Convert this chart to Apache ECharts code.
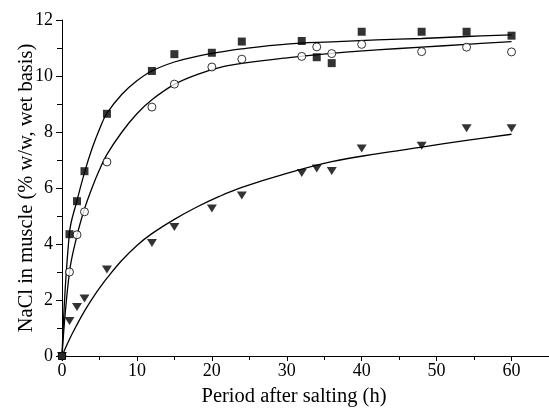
<!DOCTYPE html>
<html>
<head>
<meta charset="utf-8">
<title>NaCl uptake</title>
<script src="https://cdn.jsdelivr.net/npm/echarts@6/dist/echarts.min.js"></script>
<style>
    html, body {margin: 0; padding: 0; background: #fff;}
    #charts {width: 549px; height: 408px;}
</style>
</head>
<body>
<div id="charts"></div>
<script>
// sampling times (h) and measured NaCl (% w/w)
var hours = [0, 1, 2, 3, 6, 12, 15, 20, 24, 32, 34, 36, 40, 48, 54, 60];
var squareVals = [0, 4.35, 5.53, 6.6, 8.65, 10.18, 10.78, 10.83, 11.23, 11.25, 10.67, 10.46, 11.58, 11.58, 11.58, 11.44];
var circleVals = [0, 3.0, 4.33, 5.15, 6.93, 8.89, 9.71, 10.32, 10.6, 10.7, 11.04, 10.8, 11.13, 10.87, 11.03, 10.86];
var triangleVals = [0, 1.25, 1.75, 2.05, 3.09, 4.04, 4.61, 5.27, 5.73, 6.54, 6.7, 6.61, 7.41, 7.51, 8.13, 8.13];

// fitted curves
var curveHours = [0, 1, 2, 3, 4, 5, 6, 8, 10, 12, 15, 18, 21, 24, 30, 36, 42, 48, 54, 60];
var squareCurve = [0, 4.4, 5.55, 6.55, 7.4, 8.1, 8.67, 9.35, 9.83, 10.18, 10.5, 10.7, 10.85, 10.97, 11.14, 11.22, 11.29, 11.34, 11.41, 11.47];
var circleCurve = [0, 3.0, 4.3, 5.25, 6.0, 6.65, 7.2, 8.0, 8.65, 9.15, 9.7, 10.05, 10.3, 10.45, 10.65, 10.81, 10.93, 11.03, 11.13, 11.23];
var triangleCurve = [0, 0.6, 1.12, 1.6, 2.03, 2.42, 2.78, 3.42, 3.95, 4.37, 4.88, 5.32, 5.7, 6.02, 6.52, 6.94, 7.22, 7.46, 7.7, 7.92];

var xTicks = [0, 10, 20, 30, 40, 50, 60];
var yTicks = [0, 2, 4, 6, 8, 10, 12];

function pairs(xs, ys) {
    var res = [];
    for (var i = 0; i < xs.length; i++) {
        res.push([xs[i], ys[i]]);
    }
    return res;
}

var font = 'Liberation Serif';

function curve(ys) {
    return {
        type: 'line',
        data: pairs(curveHours, ys),
        smooth: 0.4,
        showSymbol: false,
        silent: true,
        lineStyle: {color: '#000', width: 1.3},
        z: 2
    };
}

var myChart = echarts.init(document.getElementById('charts'));
myChart.setOption({
    animation: false,
    backgroundColor: '#fff',
    grid: {left: 62, right: 0, top: 20, bottom: 52, containLabel: false, outerBoundsMode: 'none'},
    xAxis: {
        type: 'value',
        min: 0,
        max: 65,
        interval: 10,
        name: 'Period after salting (h)',
        nameLocation: 'middle',
        nameGap: 30,
        nameMoveOverlap: false,
        nameTextStyle: {fontFamily: font, fontSize: 20.5, color: '#000', padding: [0, 23, 0, 0]},
        axisLine: {lineStyle: {color: '#000', width: 1}},
        axisTick: {length: 5, lineStyle: {color: '#000'}},
        minorTick: {show: true, splitNumber: 2, length: 4, lineStyle: {color: '#000'}},
        splitLine: {show: false},
        axisLabel: {
            fontFamily: font, fontSize: 18, color: '#000', margin: 6,
            formatter: function (v) { return xTicks.indexOf(v) >= 0 ? String(v) : ''; }
        }
    },
    yAxis: {
        type: 'value',
        min: 0,
        max: 12,
        interval: 2,
        name: 'NaCl in muscle (% w/w, wet basis)',
        nameLocation: 'middle',
        nameGap: 25,
        nameMoveOverlap: false,
        nameTextStyle: {fontFamily: font, fontSize: 20.5, color: '#000'},
        axisLine: {show: true, lineStyle: {color: '#000', width: 1}},
        axisTick: {show: true, length: 6, lineStyle: {color: '#000'}},
        minorTick: {show: true, splitNumber: 2, length: 5, lineStyle: {color: '#000'}},
        splitLine: {show: false},
        axisLabel: {
            fontFamily: font, fontSize: 18, color: '#000', margin: 9,
            formatter: function (v) { return yTicks.indexOf(v) >= 0 ? String(v) : ''; }
        }
    },
    series: [
        curve(squareCurve),
        curve(circleCurve),
        curve(triangleCurve),
        {
            type: 'scatter',
            data: pairs(hours, triangleVals),
            symbol: 'triangle',
            symbolRotate: 180,
            symbolSize: [10, 8],
            itemStyle: {color: '#000'},
            z: 3
        },
        {
            type: 'scatter',
            data: pairs(hours, circleVals),
            symbol: 'circle',
            symbolSize: 8,
            itemStyle: {color: '#fff', borderColor: '#000', borderWidth: 1},
            z: 4
        },
        {
            type: 'scatter',
            data: pairs(hours, squareVals),
            symbol: 'rect',
            symbolSize: 8,
            itemStyle: {color: '#000'},
            z: 5
        }
    ]
});
</script>
</body>
</html>
